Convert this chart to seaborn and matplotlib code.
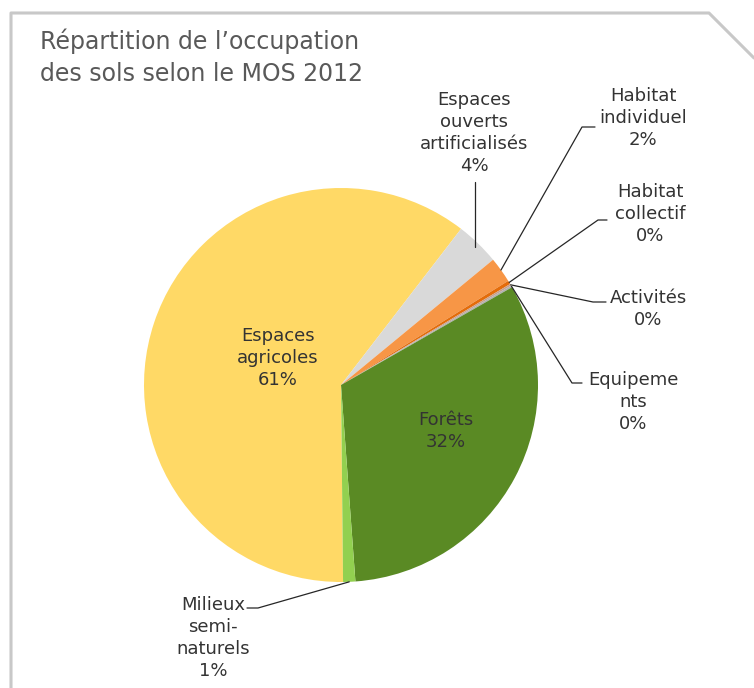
import numpy as np
import matplotlib
matplotlib.use("Agg")
import matplotlib.pyplot as plt
from matplotlib.lines import Line2D
import seaborn as sns

# Land-use shares (%), in clockwise order starting from the bottom of the pie
categories = ["Espaces agricoles", "Espaces ouverts artificialisés", "Habitat individuel",
              "Habitat collectif", "Activités", "Equipements", "Forêts", "Milieux semi-naturels"]
label_texts = ["Espaces\nagricoles", "Espaces\nouverts\nartificialisés", "Habitat\nindividuel",
               "Habitat\ncollectif", "Activités", "Equipeme\nnts", "Forêts", "Milieux\nsemi-\nnaturels"]
shares = [60.6, 3.6, 2.1, 0.3, 0.15, 0.15, 32.1, 1.0]
colors = ["#FFD966", "#D9D9D9", "#F79646", "#E46C0A", "#C9A08A", "#B0B0B0", "#5A8A24", "#92D050"]

title = "Répartition de l’occupation\ndes sols selon le MOS 2012"

sns.set_theme(style="white")
plt.rcParams["font.family"] = ["DejaVu Sans"]
palette = sns.color_palette(colors)

W, H = 754, 688
CX, CY, R = 341, 385, 197  # pie centre and radius in pixels


def px(x, y):
    """Pixel position (origin top-left) -> pie data coordinates (radius = 1)."""
    return (x - CX) / R, (CY - y) / R


fig = plt.figure(figsize=(W / 100, H / 100), dpi=100)
ax = fig.add_axes([0, 0, 1, 1])

wedges, _ = ax.pie(shares, colors=palette, startangle=270.6, counterclock=False,
                   radius=1.0, center=(0, 0), wedgeprops=dict(linewidth=0),
                   frame=True)
ax.set_xlim(-CX / R, (W - CX) / R)
ax.set_ylim((CY - H) / R, CY / R)
ax.set_aspect("equal")
ax.axis("off")

total = sum(shares)
pct = [f"{v / total * 100:.0f}%" for v in shares]
txt_color = "#333333"
fs = 13

# labels inside the two large slices
for i, pos in [(0, (278, 358)), (6, (446, 431))]:
    ax.text(*px(*pos), f"{label_texts[i]}\n{pct[i]}", ha="center", va="center",
            fontsize=fs, color=txt_color, linespacing=1.3)

# outside labels: (index, label centre, elbow point, end of horizontal stub)
outside = [
    (1, (474, 133), (475, 182), (475, 182)),
    (2, (643, 118), (582, 127), (595, 127)),
    (3, (650, 214), (598, 220), (607, 220)),
    (4, (648, 309), (593, 302), (606, 302)),
    (5, (633, 402), (572, 383), (582, 383)),
    (7, (213, 638), (258, 608), (247, 608)),
]
for i, lab, elbow, stub in outside:
    w = wedges[i]
    ex, ey = px(*elbow)
    sx, sy = px(*stub)
    if i == 1:
        # vertical leader dropping onto the slice near its rim
        start = (ex, np.sqrt(0.975 ** 2 - ex ** 2))
    else:
        mid = np.deg2rad((w.theta1 + w.theta2) / 2)
        start = (np.cos(mid), np.sin(mid))
    ax.add_line(Line2D([start[0], ex, sx], [start[1], ey, sy], color="#262626", lw=0.9))
    ax.text(*px(*lab), f"{label_texts[i]}\n{pct[i]}", ha="center", va="center",
            fontsize=fs, color=txt_color, linespacing=1.3)

# chart title
fig.text(40 / W, 1 - 29 / H, title, ha="left", va="top", fontsize=17,
         color="#595959", linespacing=1.4)

# snipped-corner frame around the chart
fx = [11, 11, 709, 754]
fy = [H, 13, 13, 58]
fig.add_artist(Line2D([x / W for x in fx], [1 - y / H for y in fy],
                      transform=fig.transFigure, color="#C8C8C8", lw=2.2))

fig.savefig("out.png", dpi=100, facecolor="white")
